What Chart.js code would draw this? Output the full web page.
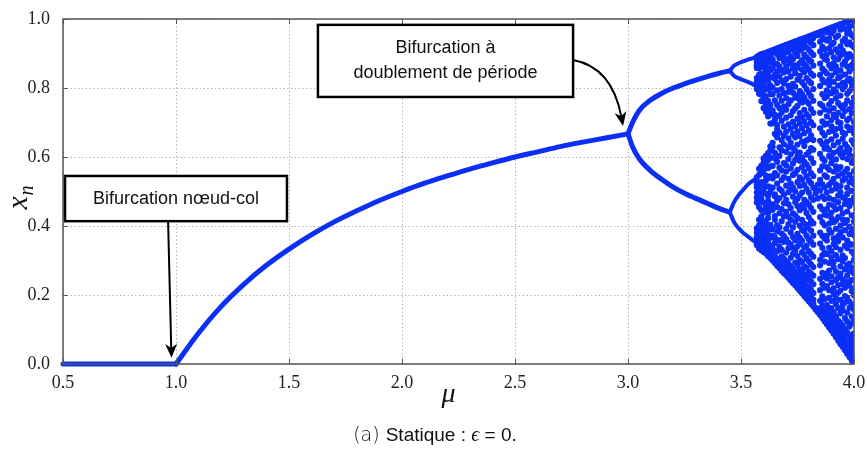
<!DOCTYPE html>
<html>
<head>
<meta charset="utf-8">
<script src="https://cdn.jsdelivr.net/npm/chart.js@4.4.1/dist/chart.umd.min.js"></script>
<style>
  html, body { margin: 0; padding: 0; background: #fff; }
  #wrap { width: 867px; height: 453px; }
</style>
</head>
<body>
<div id="wrap"><canvas id="bifChart" width="867" height="453"></canvas></div>
<script>
// branche stable x = 0
const muFlat = [0.5, 1.0];
const xFlat = [0.0, 0.0];

// point fixe stable
const muStable = [1.0, 1.1, 1.2, 1.3, 1.4, 1.5, 1.6, 1.7, 1.8, 1.9, 2.0, 2.1, 2.2, 2.3, 2.4, 2.5, 2.6, 2.7, 2.8, 2.9, 3.0];
const xStable = [0.0, 0.09, 0.167, 0.231, 0.286, 0.333, 0.375, 0.412, 0.444, 0.474, 0.5, 0.524, 0.545, 0.565, 0.583, 0.6, 0.615, 0.63, 0.643, 0.655, 0.667];

// periode 2
const muP2 = [3.0, 3.02, 3.05, 3.1, 3.15, 3.2, 3.25, 3.3, 3.35, 3.4, 3.45];
const xP2Up = [0.667, 0.70, 0.735, 0.765, 0.785, 0.80, 0.812, 0.823, 0.833, 0.842, 0.85];
const xP2Low = [0.667, 0.63, 0.595, 0.56, 0.535, 0.513, 0.495, 0.48, 0.466, 0.452, 0.44];

// periode 4
const muP4 = [3.45, 3.47, 3.49, 3.51, 3.53, 3.55, 3.57];
const xP4a = [0.85, 0.865, 0.872, 0.877, 0.882, 0.886, 0.89];
const xP4b = [0.85, 0.835, 0.828, 0.823, 0.818, 0.812, 0.805];
const xP4c = [0.44, 0.47, 0.49, 0.505, 0.52, 0.53, 0.54];
const xP4d = [0.44, 0.41, 0.393, 0.38, 0.37, 0.36, 0.35];

// regime chaotique (une colonne de points par valeur de mu)
const muChaos = [3.57, 3.58, 3.59, 3.60, 3.61, 3.62, 3.63, 3.64, 3.65, 3.66, 3.67, 3.68, 3.69, 3.70,
  3.71, 3.72, 3.73, 3.74, 3.75, 3.76, 3.77, 3.78, 3.79, 3.80, 3.81, 3.82, 3.83, 3.84, 3.85, 3.86,
  3.87, 3.88, 3.89, 3.90, 3.91, 3.92, 3.93, 3.94, 3.95, 3.96, 3.97, 3.98, 3.99, 4.00];
const xChaos = [
  [0.345,0.352,0.36,0.368,0.381,0.393,0.468,0.482,0.497,0.512,0.52,0.528,0.541,0.797,0.806,0.818,0.829,0.858,0.866,0.874,0.883,0.89],
  [0.335,0.344,0.359,0.377,0.39,0.402,0.418,0.455,0.471,0.488,0.503,0.519,0.548,0.566,0.783,0.794,0.812,0.826,0.838,0.857,0.871,0.886,0.895],
  [0.33,0.338,0.352,0.371,0.389,0.408,0.427,0.446,0.478,0.491,0.527,0.553,0.574,0.762,0.781,0.803,0.827,0.842,0.866,0.879,0.891,0.898],
  [0.325,0.331,0.347,0.362,0.381,0.398,0.415,0.439,0.468,0.507,0.521,0.561,0.583,0.596,0.742,0.768,0.791,0.816,0.833,0.861,0.874,0.888,0.90],
  [0.32,0.327,0.341,0.368,0.383,0.409,0.452,0.461,0.494,0.532,0.546,0.577,0.603,0.731,0.752,0.776,0.804,0.829,0.848,0.869,0.884,0.895,0.902],
  [0.313,0.321,0.336,0.352,0.374,0.397,0.423,0.437,0.472,0.486,0.515,0.539,0.568,0.591,0.611,0.718,0.741,0.763,0.797,0.821,0.837,0.856,0.878,0.893,0.905],
  [0.307,0.314,0.329,0.343,0.366,0.391,0.403,0.448,0.463,0.497,0.511,0.544,0.573,0.598,0.619,0.631,0.697,0.724,0.751,0.782,0.808,0.831,0.852,0.873,0.889,0.901,0.907],
  [0.30,0.307,0.318,0.335,0.372,0.391,0.447,0.463,0.511,0.538,0.574,0.629,0.641,0.698,0.735,0.782,0.801,0.857,0.883,0.902,0.91],
  [0.293,0.299,0.312,0.351,0.367,0.418,0.429,0.486,0.492,0.553,0.596,0.612,0.667,0.709,0.722,0.764,0.826,0.839,0.871,0.905,0.912],
  [0.285,0.292,0.304,0.327,0.384,0.402,0.455,0.473,0.523,0.547,0.586,0.657,0.681,0.693,0.751,0.793,0.815,0.848,0.869,0.898,0.915],
  [0.278,0.285,0.296,0.341,0.359,0.396,0.437,0.481,0.508,0.569,0.603,0.628,0.671,0.719,0.742,0.778,0.834,0.862,0.887,0.908,0.917],
  [0.27,0.277,0.289,0.312,0.331,0.378,0.414,0.449,0.502,0.533,0.561,0.619,0.649,0.705,0.729,0.763,0.797,0.821,0.852,0.893,0.912,0.92],
  [0.263,0.27,0.282,0.305,0.354,0.371,0.428,0.466,0.491,0.542,0.582,0.637,0.662,0.688,0.746,0.785,0.813,0.845,0.876,0.899,0.922],
  [0.257,0.264,0.275,0.297,0.323,0.362,0.392,0.441,0.476,0.517,0.558,0.576,0.615,0.673,0.714,0.737,0.771,0.826,0.861,0.884,0.916,0.925],
  [0.25,0.257,0.268,0.291,0.336,0.352,0.405,0.427,0.463,0.498,0.537,0.594,0.629,0.654,0.695,0.753,0.789,0.806,0.848,0.879,0.904,0.927],
  [0.242,0.25,0.261,0.283,0.308,0.347,0.381,0.418,0.452,0.506,0.523,0.567,0.608,0.641,0.682,0.721,0.764,0.799,0.833,0.871,0.892,0.921,0.93],
  [0.235,0.242,0.254,0.276,0.319,0.337,0.368,0.396,0.437,0.485,0.512,0.548,0.581,0.626,0.667,0.702,0.733,0.786,0.812,0.857,0.884,0.913,0.932],
  [0.228,0.235,0.246,0.268,0.294,0.328,0.359,0.412,0.431,0.469,0.501,0.553,0.592,0.618,0.657,0.689,0.741,0.772,0.804,0.843,0.866,0.902,0.925,0.935],
  [0.22,0.227,0.239,0.259,0.287,0.313,0.341,0.377,0.423,0.458,0.479,0.527,0.563,0.602,0.636,0.674,0.711,0.748,0.779,0.824,0.859,0.893,0.918,0.937],
  [0.212,0.219,0.231,0.252,0.274,0.301,0.348,0.366,0.401,0.446,0.489,0.516,0.541,0.589,0.613,0.661,0.698,0.727,0.765,0.791,0.835,0.872,0.909,0.929,0.94],
  [0.205,0.212,0.224,0.245,0.268,0.296,0.324,0.357,0.389,0.418,0.461,0.497,0.534,0.571,0.598,0.645,0.684,0.716,0.758,0.782,0.817,0.853,0.881,0.914,0.942],
  [0.197,0.204,0.216,0.237,0.259,0.283,0.317,0.338,0.384,0.407,0.452,0.476,0.519,0.557,0.586,0.632,0.669,0.703,0.737,0.773,0.808,0.846,0.869,0.897,0.926,0.945],
  [0.19,0.197,0.209,0.228,0.251,0.279,0.306,0.343,0.372,0.396,0.438,0.469,0.508,0.544,0.579,0.607,0.648,0.692,0.724,0.761,0.797,0.829,0.864,0.889,0.918,0.938,0.947],
  [0.182,0.19,0.202,0.221,0.246,0.267,0.298,0.327,0.361,0.403,0.426,0.463,0.497,0.532,0.568,0.614,0.652,0.677,0.716,0.754,0.786,0.821,0.853,0.882,0.911,0.94,0.95],
  [0.175,0.182,0.194,0.214,0.239,0.262,0.289,0.319,0.354,0.387,0.415,0.452,0.483,0.524,0.553,0.596,0.626,0.663,0.701,0.739,0.776,0.814,0.842,0.877,0.903,0.931,0.952],
  [0.167,0.175,0.187,0.206,0.231,0.256,0.281,0.311,0.346,0.372,0.408,0.441,0.476,0.511,0.545,0.583,0.621,0.649,0.692,0.728,0.763,0.797,0.836,0.865,0.896,0.924,0.945,0.955],
  [0.158,0.163,0.495,0.505,0.955,0.957],
  [0.15,0.158,0.48,0.52,0.953,0.96],
  [0.142,0.149,0.161,0.183,0.214,0.247,0.286,0.302,0.349,0.381,0.426,0.457,0.503,0.534,0.561,0.609,0.647,0.683,0.728,0.754,0.806,0.838,0.871,0.906,0.934,0.962],
  [0.133,0.14,0.152,0.171,0.196,0.232,0.264,0.315,0.337,0.372,0.411,0.448,0.486,0.521,0.573,0.596,0.638,0.671,0.703,0.749,0.782,0.824,0.856,0.893,0.919,0.948,0.965],
  [0.124,0.131,0.143,0.164,0.188,0.221,0.253,0.297,0.323,0.364,0.402,0.433,0.478,0.512,0.547,0.589,0.624,0.662,0.694,0.738,0.771,0.817,0.849,0.884,0.912,0.941,0.967],
  [0.115,0.121,0.133,0.158,0.171,0.226,0.248,0.263,0.319,0.358,0.372,0.431,0.449,0.497,0.542,0.571,0.628,0.644,0.697,0.718,0.776,0.793,0.842,0.881,0.897,0.938,0.961,0.97],
  [0.106,0.112,0.127,0.146,0.192,0.214,0.271,0.293,0.337,0.389,0.407,0.462,0.481,0.519,0.563,0.603,0.621,0.673,0.734,0.752,0.809,0.824,0.867,0.915,0.943,0.972],
  [0.097,0.103,0.118,0.139,0.162,0.183,0.237,0.254,0.309,0.327,0.381,0.423,0.439,0.503,0.527,0.582,0.597,0.651,0.689,0.707,0.762,0.785,0.836,0.857,0.904,0.926,0.958,0.975],
  [0.088,0.094,0.109,0.124,0.151,0.203,0.219,0.281,0.296,0.348,0.364,0.411,0.458,0.476,0.537,0.558,0.612,0.634,0.676,0.722,0.741,0.796,0.818,0.872,0.889,0.931,0.966,0.977],
  [0.078,0.084,0.099,0.117,0.138,0.174,0.191,0.243,0.268,0.316,0.339,0.392,0.416,0.448,0.509,0.521,0.573,0.593,0.662,0.681,0.716,0.771,0.789,0.846,0.862,0.912,0.947,0.98],
  [0.068,0.074,0.089,0.108,0.126,0.162,0.207,0.229,0.251,0.304,0.356,0.371,0.426,0.469,0.488,0.546,0.564,0.617,0.643,0.701,0.728,0.756,0.807,0.829,0.883,0.903,0.952,0.982],
  [0.058,0.064,0.079,0.096,0.119,0.147,0.186,0.213,0.262,0.283,0.331,0.382,0.401,0.452,0.498,0.516,0.571,0.609,0.626,0.684,0.698,0.749,0.778,0.833,0.851,0.894,0.921,0.969,0.985],
  [0.049,0.055,0.07,0.093,0.111,0.156,0.171,0.232,0.246,0.298,0.314,0.367,0.419,0.437,0.483,0.532,0.552,0.599,0.653,0.671,0.719,0.741,0.797,0.815,0.868,0.909,0.936,0.987],
  [0.04,0.046,0.061,0.083,0.101,0.133,0.178,0.197,0.221,0.274,0.307,0.343,0.388,0.409,0.464,0.479,0.538,0.557,0.614,0.638,0.667,0.733,0.752,0.806,0.839,0.877,0.899,0.943,0.972,0.99],
  [0.03,0.036,0.052,0.068,0.092,0.123,0.149,0.192,0.238,0.256,0.287,0.336,0.358,0.417,0.442,0.493,0.511,0.566,0.594,0.629,0.689,0.707,0.764,0.783,0.821,0.862,0.887,0.927,0.958,0.992],
  [0.02,0.026,0.042,0.059,0.084,0.109,0.163,0.181,0.227,0.269,0.291,0.348,0.377,0.398,0.458,0.473,0.527,0.548,0.606,0.621,0.678,0.712,0.739,0.791,0.827,0.848,0.898,0.932,0.963,0.979,0.995],
  [0.01,0.016,0.033,0.049,0.074,0.118,0.138,0.172,0.211,0.243,0.278,0.326,0.346,0.389,0.431,0.468,0.502,0.537,0.583,0.601,0.648,0.684,0.727,0.756,0.799,0.813,0.867,0.891,0.924,0.953,0.997],
  [0.0,0.007,0.023,0.038,0.064,0.089,0.128,0.157,0.199,0.218,0.262,0.302,0.318,0.373,0.412,0.428,0.483,0.521,0.559,0.592,0.637,0.668,0.701,0.746,0.772,0.822,0.857,0.876,0.918,0.947,0.981,1.0]
];

// graduations
const xTicks = [0.5, 1.0, 1.5, 2.0, 2.5, 3.0, 3.5, 4.0];
const yTicks = [0.0, 0.2, 0.4, 0.6, 0.8, 1.0];

// annotations (coordonnees en mu / x_n)
const note1Lines = ['Bifurcation nœud-col'];
const note1Box = [0.509, 1.491, 0.545, 0.414];
const note1From = [0.965, 0.414];
const note1To = [0.98, 0.018];
const note2Lines = ['Bifurcation à', 'doublement de période'];
const note2Box = [1.628, 2.757, 0.983, 0.774];
const note2From = [2.757, 0.881];
const note2Ctrl = [2.93, 0.86];
const note2To = [2.978, 0.69];

const BLUE = '#0b2ff7';

function pairs(xs, ys) {
    return xs.map(function (v, i) { return { x: v, y: ys[i] }; });
}

const chaosPoints = [];
muChaos.forEach(function (m, i) {
    xChaos[i].forEach(function (v) { chaosPoints.push({ x: m, y: v }); });
});

function branch(xs, ys, w) {
    return {
        data: pairs(xs, ys),
        showLine: true,
        borderColor: BLUE,
        borderWidth: w,
        pointRadius: 0,
        cubicInterpolationMode: 'monotone',
        borderCapStyle: 'round',
        clip: 5
    };
}

function drawArrowHead(ctx, x, y, ang) {
    const len = 14, half = 6;
    ctx.save();
    ctx.translate(x, y);
    ctx.rotate(ang);
    ctx.beginPath();
    ctx.moveTo(0, 0);
    ctx.lineTo(-len, -half);
    ctx.lineTo(-len * 0.7, 0);
    ctx.lineTo(-len, half);
    ctx.closePath();
    ctx.fillStyle = '#000';
    ctx.fill();
    ctx.restore();
}

function drawNote(ctx, xs, ys, box, lines) {
    const l = xs.getPixelForValue(box[0]), r = xs.getPixelForValue(box[1]);
    const t = ys.getPixelForValue(box[2]), b = ys.getPixelForValue(box[3]);
    ctx.fillStyle = '#fff';
    ctx.fillRect(l, t, r - l, b - t);
    ctx.strokeStyle = '#000';
    ctx.lineWidth = 2.5;
    ctx.strokeRect(l, t, r - l, b - t);
    ctx.fillStyle = '#111';
    ctx.font = '18px "Liberation Sans", Arial, sans-serif';
    ctx.textAlign = 'center';
    ctx.textBaseline = 'middle';
    const cy = (t + b) / 2, step = 25;
    lines.forEach(function (s, i) {
        ctx.fillText(s, (l + r) / 2, cy + (i - (lines.length - 1) / 2) * step);
    });
}

const framePlugin = {
    id: 'framePlugin',
    beforeDatasetsDraw: function (chart) {
        const ctx = chart.ctx, a = chart.chartArea;
        const xs = chart.scales.x, ys = chart.scales.y;
        ctx.save();
        ctx.strokeStyle = '#a8a8a8';
        ctx.lineWidth = 1;
        ctx.setLineDash([1.2, 2.6]);
        xTicks.forEach(function (v) {
            const p = Math.round(xs.getPixelForValue(v)) + 0.5;
            ctx.beginPath(); ctx.moveTo(p, a.top); ctx.lineTo(p, a.bottom); ctx.stroke();
        });
        yTicks.forEach(function (v) {
            const p = Math.round(ys.getPixelForValue(v)) + 0.5;
            ctx.beginPath(); ctx.moveTo(a.left, p); ctx.lineTo(a.right, p); ctx.stroke();
        });
        ctx.restore();
    },
    afterDatasetsDraw: function (chart) {
        const ctx = chart.ctx, a = chart.chartArea;
        const xs = chart.scales.x, ys = chart.scales.y;
        ctx.save();
        ctx.strokeStyle = '#555';
        ctx.lineWidth = 1.5;
        ctx.strokeRect(a.left, a.top, a.right - a.left, a.bottom - a.top);
        // petites graduations vers l'interieur
        ctx.lineWidth = 1;
        xTicks.forEach(function (v) {
            const p = Math.round(xs.getPixelForValue(v)) + 0.5;
            ctx.beginPath();
            ctx.moveTo(p, a.bottom); ctx.lineTo(p, a.bottom - 5);
            ctx.moveTo(p, a.top); ctx.lineTo(p, a.top + 5);
            ctx.stroke();
        });
        yTicks.forEach(function (v) {
            const p = Math.round(ys.getPixelForValue(v)) + 0.5;
            ctx.beginPath();
            ctx.moveTo(a.left, p); ctx.lineTo(a.left + 5, p);
            ctx.moveTo(a.right, p); ctx.lineTo(a.right - 5, p);
            ctx.stroke();
        });

        // fleche 1 (droite)
        ctx.strokeStyle = '#000';
        ctx.lineWidth = 2;
        const f1 = [xs.getPixelForValue(note1From[0]), ys.getPixelForValue(note1From[1])];
        const t1 = [xs.getPixelForValue(note1To[0]), ys.getPixelForValue(note1To[1])];
        const ang1 = Math.atan2(t1[1] - f1[1], t1[0] - f1[0]);
        ctx.beginPath();
        ctx.moveTo(f1[0], f1[1]);
        ctx.lineTo(t1[0] - 9 * Math.cos(ang1), t1[1] - 9 * Math.sin(ang1));
        ctx.stroke();
        drawArrowHead(ctx, t1[0], t1[1], ang1);

        // fleche 2 (courbe)
        const f2 = [xs.getPixelForValue(note2From[0]), ys.getPixelForValue(note2From[1])];
        const c2 = [xs.getPixelForValue(note2Ctrl[0]), ys.getPixelForValue(note2Ctrl[1])];
        const t2 = [xs.getPixelForValue(note2To[0]), ys.getPixelForValue(note2To[1])];
        const ang2 = Math.atan2(t2[1] - c2[1], t2[0] - c2[0]);
        ctx.beginPath();
        ctx.moveTo(f2[0], f2[1]);
        ctx.quadraticCurveTo(c2[0], c2[1], t2[0] - 9 * Math.cos(ang2), t2[1] - 9 * Math.sin(ang2));
        ctx.stroke();
        drawArrowHead(ctx, t2[0], t2[1], ang2);

        drawNote(ctx, xs, ys, note1Box, note1Lines);
        drawNote(ctx, xs, ys, note2Box, note2Lines);

        // titres des axes
        ctx.fillStyle = '#111';
        ctx.textAlign = 'center';
        ctx.textBaseline = 'alphabetic';
        ctx.font = 'italic 28px "Liberation Serif", "DejaVu Serif", serif';
        ctx.fillText('μ', (a.left + a.right) / 2 - 10, 402);

        ctx.save();
        ctx.translate(27, (a.top + a.bottom) / 2 + 6);
        ctx.rotate(-Math.PI / 2);
        ctx.textAlign = 'left';
        ctx.font = 'italic 30px "Liberation Serif", "DejaVu Serif", serif';
        ctx.fillText('x', -12, 0);
        ctx.font = 'italic 20px "Liberation Serif", "DejaVu Serif", serif';
        ctx.fillText('n', 2, 6);
        ctx.restore();

        // legende de la figure
        const parts = [
            ['(a) ', '300 19px "DejaVu Sans", "Liberation Sans", sans-serif'],
            ['Statique', '19px "Liberation Sans", sans-serif'],
            [' : ', '19px "Liberation Sans", sans-serif'],
            ['ϵ', 'italic 20px "Liberation Serif", serif'],
            [' = 0.', '19px "Liberation Sans", sans-serif']
        ];
        let total = 0;
        parts.forEach(function (p) { ctx.font = p[1]; total += ctx.measureText(p[0]).width; });
        let cx = 435 - total / 2;
        ctx.textAlign = 'left';
        parts.forEach(function (p) {
            ctx.font = p[1];
            ctx.fillText(p[0], cx, 441);
            cx += ctx.measureText(p[0]).width;
        });
        ctx.restore();
    }
};

new Chart(document.getElementById('bifChart'), {
    type: 'scatter',
    data: {
        datasets: [
            {
                data: chaosPoints,
                pointRadius: 3.1,
                pointBackgroundColor: BLUE,
                pointBorderWidth: 0,
                showLine: false
            },
            branch(muFlat, xFlat, 5),
            branch(muStable, xStable, 5),
            branch(muP2, xP2Up, 5),
            branch(muP2, xP2Low, 5),
            branch(muP4, xP4a, 4),
            branch(muP4, xP4b, 4),
            branch(muP4, xP4c, 4),
            branch(muP4, xP4d, 4)
        ]
    },
    options: {
        responsive: false,
        animation: false,
        events: [],
        layout: { padding: { top: 19, right: 13, left: 0, bottom: 0 } },
        plugins: {
            legend: { display: false },
            tooltip: { enabled: false }
        },
        scales: {
            x: {
                type: 'linear',
                min: 0.5,
                max: 4.0,
                afterFit: function (s) { s.height = 89; },
                afterBuildTicks: function (s) { s.ticks = xTicks.map(function (v) { return { value: v }; }); },
                grid: { display: false },
                border: { display: false },
                ticks: {
                    padding: 0,
                    color: '#222',
                    font: { family: '"Liberation Serif", "DejaVu Serif", serif', size: 18 },
                    callback: function (v) { return v.toFixed(1); }
                }
            },
            y: {
                min: 0,
                max: 1,
                afterFit: function (s) { s.width = 63; },
                afterBuildTicks: function (s) { s.ticks = yTicks.map(function (v) { return { value: v }; }); },
                grid: { display: false },
                border: { display: false },
                ticks: {
                    padding: 5,
                    color: '#222',
                    font: { family: '"Liberation Serif", "DejaVu Serif", serif', size: 18 },
                    callback: function (v) { return v.toFixed(1); }
                }
            }
        }
    },
    plugins: [framePlugin]
});
</script>
</body>
</html>
